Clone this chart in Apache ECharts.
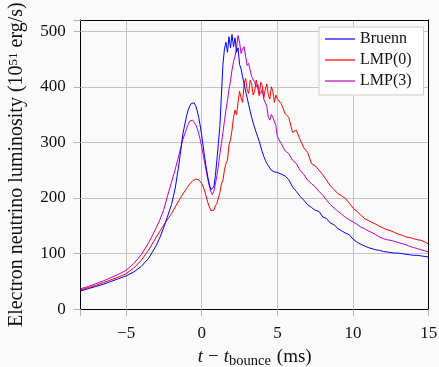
<!DOCTYPE html>
<html>
<head>
<meta charset="utf-8">
<script src="https://cdn.jsdelivr.net/npm/echarts@6/dist/echarts.min.js"></script>
<style>
html,body{margin:0;padding:0;background:#fafafa;}
#chart{width:439px;height:367px;}
</style>
</head>
<body>
<div id="chart"></div>
<script>
// time after bounce (ms)
var tTime = [
 -8,-7.5,-7,-6.5,-6,-5.5,-5,-4.5,-4,-3.5,-3,-2.75,-2.5,-2.25,-2,-1.75,-1.5,-1.25,
 -1,-0.9,-0.8,-0.7,-0.6,-0.5,-0.4,-0.3,-0.2,-0.1,0,0.1,0.2,0.3,0.4,0.5,0.6,0.7,0.8,0.9,
 1.0,1.1,1.2,1.3,1.4,1.5,1.6,1.7,1.8,1.9,
 2.0,2.1,2.2,2.3,2.4,2.5,2.6,2.7,2.8,2.9,
 3.0,3.1,3.2,3.3,3.4,3.5,3.6,3.7,3.8,3.9,
 4.0,4.1,4.2,4.3,4.4,4.5,4.6,4.7,4.8,4.9,
 5.0,
 5.25,5.5,5.75,6,6.25,6.5,6.75,7,7.25,7.5,7.75,8,8.25,8.5,8.75,9,9.25,9.5,9.75,10,
 10.25,10.5,10.75,11,11.25,11.5,11.75,12,12.25,12.5,12.75,13,13.25,13.5,13.75,14,14.25,14.5,14.75,15
];
var bruenn = [
 33,37,41,45,50,55,60,67,77,92,115,130,148,168,188,218,262,315,
 348,358,365,370,372,371,366,357,345,330,312,292,272,254,238,225,215,212,220,240,
 268,298,330,385,440,468,480,462,490,470,
 494,472,488,462,470,440,432,418,405,392,
 380,368,356,345,335,326,318,310,302,292,
 283,275,268,262,258,254,250,248,247,248,
 246,
 243,240,233,220,212,203,196,188,183,178,176,166,163,155,152,145,141,137,134,126,
 121,117,114,111,109,107,106,104,103,102,101,101,100,99,98,97,97,96,95,94
];
var lmp0 = [
 35,39,43,48,53,58,64,74,88,107,130,141,152,162,172,184,196,207,
 217,221,225,228,231,233,234,234,233,230,226,220,212,202,192,184,178,176,178,186,
 190,200,210,225,232,250,262,268,295,305,
 322,345,358,350,372,392,380,372,405,415,
 395,388,412,405,385,392,412,398,384,408,
 402,380,395,405,385,378,400,392,372,385,
 378,
 370,352,345,318,322,305,290,282,262,258,250,242,232,222,215,208,204,199,191,182,
 176,170,163,160,156,153,149,146,143,141,138,135,133,130,129,127,125,124,121,117
];
var lmp3 = [
 37,41,46,51,57,63,70,82,98,120,147,162,180,205,228,252,278,305,
 325,332,338,340,340,337,332,325,316,305,292,277,262,248,234,222,212,206,212,225,
 240,258,280,298,318,338,358,375,395,410,
 430,445,455,470,492,480,460,468,472,455,
 438,442,430,418,420,408,400,405,392,388,
 395,378,380,365,345,340,350,345,348,330,
 310,
 298,285,280,268,262,250,242,232,226,220,212,205,196,188,182,176,171,165,161,157,
 153,148,145,141,138,134,130,127,125,124,122,120,118,116,113,111,109,107,105,103
];
var seriesNames = ['Bruenn','LMP(0)','LMP(3)'];
var seriesColors = ['#0000ff','#ff0000','#bf00bf'];
var yTicks = [0,100,200,300,400,500];

function pairs(vals){ return tTime.map(function(t,i){ return [t, vals[i]]; }); }
var FONT = '"Liberation Serif", "DejaVu Serif", serif';

var chart = echarts.init(document.getElementById('chart'));
var allVals = [bruenn, lmp0, lmp3];
var frameAxis = { show: true, onZero: false, lineStyle: { color: '#000', width: 1 } };
chart.setOption({
  backgroundColor: '#fafafa',
  animation: false,
  textStyle: { fontFamily: FONT },
  grid: { left: 80.7, right: 10.3, top: 20, bottom: 57.7, containLabel: false, outerBoundsMode: 'none' },
  legend: {
    orient: 'vertical', left: 319, top: 27,
    padding: [4, 12, 6, 6], itemGap: 5, itemWidth: 30, itemHeight: 1.2,
    backgroundColor: '#ffffff', borderColor: '#cccccc', borderWidth: 1, borderRadius: 0,
    icon: 'rect',
    textStyle: { fontFamily: FONT, fontSize: 16, color: '#111', lineHeight: 16 },
    data: seriesNames
  },
  xAxis: [{
    type: 'value', min: -8, max: 15, splitNumber: 5,
    axisLine: frameAxis,
    axisTick: { show: true, inside: false, length: 7, lineStyle: { color: '#b4b4b4' } },
    splitLine: { show: true, lineStyle: { color: '#c4c4c4', width: 1 } },
    axisLabel: { fontFamily: FONT, fontSize: 17, color: '#111', margin: 16,
      formatter: function(v){ if (v === -8) return ''; return v < 0 ? '\u2212' + Math.abs(v) : String(v); } },
    name: '{i|t}{m|\u2212}{i|t}{sub|bounce}{r|(ms)}',
    nameLocation: 'middle', nameGap: 37,
    nameTextStyle: { fontFamily: FONT, fontSize: 19, color: '#111',
      rich: { i: { fontStyle: 'italic', fontSize: 19, fontFamily: FONT, lineHeight: 22, color: '#111' },
              m: { fontSize: 19, fontFamily: FONT, lineHeight: 22, padding: [0, 5, 0, 5], color: '#111' },
              r: { fontSize: 19, fontFamily: FONT, lineHeight: 22, padding: [0, 0, 0, 6], color: '#111' },
              sub: { fontSize: 14.5, fontFamily: FONT, verticalAlign: 'bottom', lineHeight: 14, color: '#111' } } }
  }, {
    type: 'value', min: -8, max: 15, position: 'top',
    axisLine: frameAxis, axisTick: { show: false }, axisLabel: { show: false }, splitLine: { show: false }
  }],
  yAxis: [{
    type: 'value', min: 0, max: 520, interval: 100,
    axisLine: frameAxis,
    axisTick: { show: true, inside: false, length: 7, lineStyle: { color: '#b4b4b4' } },
    splitLine: { show: true, lineStyle: { color: '#c4c4c4', width: 1 } },
    axisLabel: { fontFamily: FONT, fontSize: 17, color: '#111', margin: 15,
      formatter: function(v){ return yTicks.indexOf(v) >= 0 ? String(v) : ''; } },
    name: 'Electron neutrino luminosity (10{sup|51} erg/s)',
    nameLocation: 'middle', nameGap: 54,
    nameTextStyle: { fontFamily: FONT, fontSize: 20, color: '#111',
      rich: { sup: { fontSize: 13, fontFamily: FONT, verticalAlign: 'top', lineHeight: 13, color: '#111' } } }
  }, {
    type: 'value', min: 0, max: 520, position: 'right',
    axisLine: frameAxis, axisTick: { show: false }, axisLabel: { show: false }, splitLine: { show: false }
  }],
  series: seriesNames.map(function(n, k){
    return { name: n, type: 'line', data: pairs(allVals[k]), showSymbol: false, symbol: 'none',
      color: seriesColors[k], lineStyle: { color: seriesColors[k], width: 1 }, z: 5 - k };
  })
});
</script>
</body>
</html>
